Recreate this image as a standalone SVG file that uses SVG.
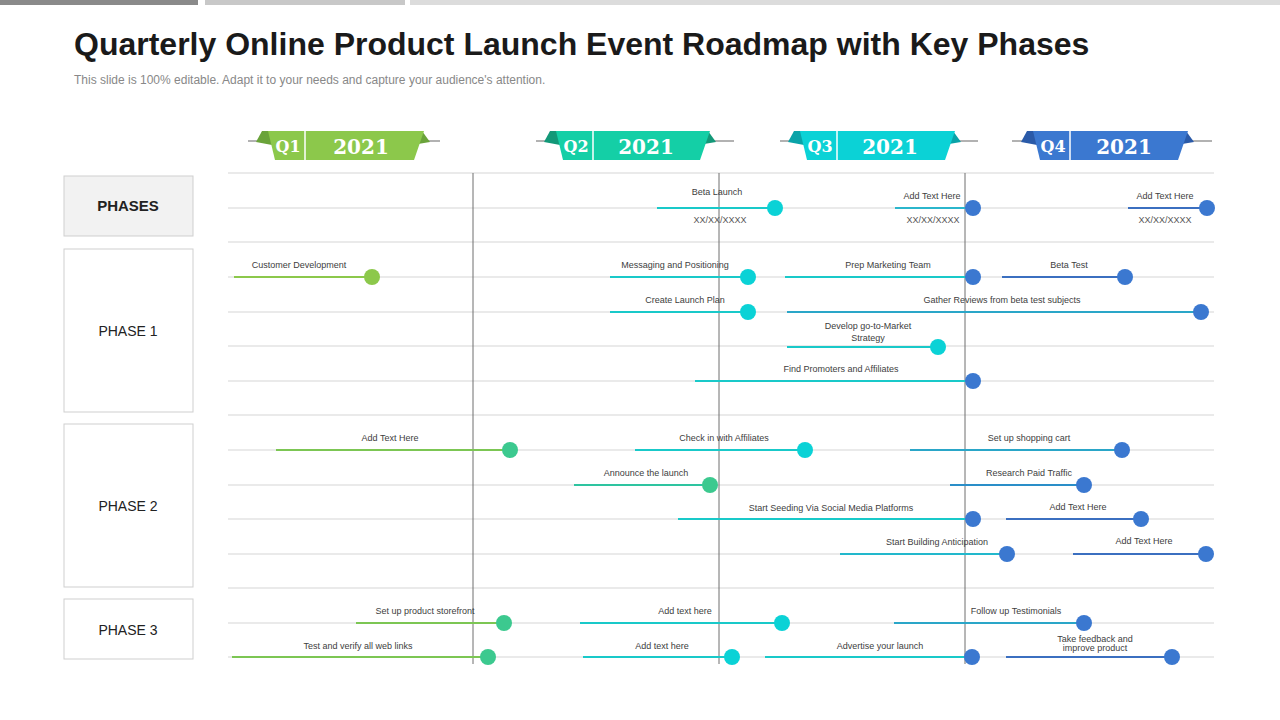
<svg xmlns="http://www.w3.org/2000/svg" width="1280" height="720" viewBox="0 0 1280 720">
<defs><style>
text{font-family:"Liberation Sans",Arial,sans-serif}
.g{stroke:#e3e3e3;stroke-width:1.5}
.v{stroke:#6e6e6e;stroke-width:1}
.l{font-size:9px;fill:#404040;text-anchor:middle}
.d{font-size:9px;fill:#555;text-anchor:middle}
.q{font-family:"DejaVu Serif",serif;font-weight:bold;fill:#fff}
.box{fill:#fff;stroke:#cfcfcf}
.ph{font-size:14px;fill:#222;text-anchor:middle}
</style></defs>
<rect width="1280" height="720" fill="#fff"/>
<rect x="0" y="0" width="198" height="5" fill="#8a8a8a"/>
<rect x="205" y="0" width="200" height="5" fill="#c8c8c8"/>
<rect x="410" y="0" width="870" height="5" fill="#dcdcdc"/>
<text x="74" y="55" font-size="32" font-weight="bold" fill="#1a1a1a">Quarterly Online Product Launch Event Roadmap with Key Phases</text>
<text x="74" y="84" font-size="12" fill="#888">This slide is 100% editable. Adapt it to your needs and capture your audience's attention.</text>

<g id="ribbons">
<g id="q1"><path d="M248 141 H440" stroke="#999" stroke-width="1.5"/><path d="M262 131 L270 131 L272 145 L256 142Z" fill="#6aa33a"/><path d="M414 131 L422 131 L430 142 L412 145Z" fill="#6aa33a"/><path d="M268 131 H424 L414 160 H275Z" fill="#8cc84b"/><line x1="305" y1="131" x2="305" y2="160" stroke="#fff" stroke-width="1.5"/><text class="q" x="288" y="152" font-size="16" text-anchor="middle">Q1</text><text class="q" x="361" y="154" font-size="20" text-anchor="middle">2021</text></g>
<g id="q2"><path d="M536 141 H734" stroke="#999" stroke-width="1.5"/><path d="M550 131 L558 131 L560 145 L544 142Z" fill="#139878"/><path d="M700 131 L708 131 L716 142 L698 145Z" fill="#139878"/><path d="M556 131 H710 L700 160 H563Z" fill="#14cfa6"/><line x1="593" y1="131" x2="593" y2="160" stroke="#fff" stroke-width="1.5"/><text class="q" x="576" y="152" font-size="16" text-anchor="middle">Q2</text><text class="q" x="646" y="154" font-size="20" text-anchor="middle">2021</text></g>
<g id="q3"><path d="M780 141 H978" stroke="#999" stroke-width="1.5"/><path d="M794 131 L802 131 L804 145 L788 142Z" fill="#0aa3a8"/><path d="M945 131 L953 131 L961 142 L943 145Z" fill="#0aa3a8"/><path d="M800 131 H955 L945 160 H807Z" fill="#0bd2d6"/><line x1="837" y1="131" x2="837" y2="160" stroke="#fff" stroke-width="1.5"/><text class="q" x="820" y="152" font-size="16" text-anchor="middle">Q3</text><text class="q" x="890" y="154" font-size="20" text-anchor="middle">2021</text></g>
<g id="q4"><path d="M1012 141 H1212" stroke="#999" stroke-width="1.5"/><path d="M1027 131 L1035 131 L1037 145 L1021 142Z" fill="#2a5aa8"/><path d="M1178 131 L1186 131 L1194 142 L1176 145Z" fill="#2a5aa8"/><path d="M1033 131 H1188 L1178 160 H1040Z" fill="#3b78d0"/><line x1="1070" y1="131" x2="1070" y2="160" stroke="#fff" stroke-width="1.5"/><text class="q" x="1053" y="152" font-size="16" text-anchor="middle">Q4</text><text class="q" x="1124" y="154" font-size="20" text-anchor="middle">2021</text></g>
</g>

<g id="grid">
<line class="g" x1="228" y1="173" x2="1214" y2="173"/>
<line class="g" x1="228" y1="208" x2="1214" y2="208"/>
<line class="g" x1="228" y1="242" x2="1214" y2="242"/>
<line class="g" x1="228" y1="277" x2="1214" y2="277"/>
<line class="g" x1="228" y1="312" x2="1214" y2="312"/>
<line class="g" x1="228" y1="346" x2="1214" y2="346"/>
<line class="g" x1="228" y1="381" x2="1214" y2="381"/>
<line class="g" x1="228" y1="415" x2="1214" y2="415"/>
<line class="g" x1="228" y1="450" x2="1214" y2="450"/>
<line class="g" x1="228" y1="485" x2="1214" y2="485"/>
<line class="g" x1="228" y1="519" x2="1214" y2="519"/>
<line class="g" x1="228" y1="554" x2="1214" y2="554"/>
<line class="g" x1="228" y1="588" x2="1214" y2="588"/>
<line class="g" x1="228" y1="623" x2="1214" y2="623"/>
<line class="g" x1="228" y1="657" x2="1214" y2="657"/>
<line class="v" x1="473" y1="173" x2="473" y2="664"/>
<line class="v" x1="719" y1="173" x2="719" y2="664"/>
<line class="v" x1="965" y1="173" x2="965" y2="664"/>
</g>

<g id="phases">
<g id="phases-head"><rect x="64" y="176" width="129" height="60" fill="#f2f2f2" stroke="#cfcfcf"/><text x="128" y="211" font-size="15" font-weight="bold" text-anchor="middle" fill="#222">PHASES</text></g>
<g id="phase1"><rect class="box" x="64" y="249" width="129" height="163"/><text class="ph" x="128" y="336">PHASE 1</text></g>
<g id="phase2"><rect class="box" x="64" y="424" width="129" height="163"/><text class="ph" x="128" y="511">PHASE 2</text></g>
<g id="phase3"><rect class="box" x="64" y="599" width="129" height="60"/><text class="ph" x="128" y="635">PHASE 3</text></g>
</g>

<g id="connectors" stroke-width="2">
<line x1="657" y1="208" x2="775" y2="208" stroke="#19c9c9"/>
<line x1="895" y1="208" x2="973" y2="208" stroke="#2bb6cc"/>
<line x1="1128" y1="208" x2="1207" y2="208" stroke="#3b6fc0"/>
<line x1="234" y1="277" x2="372" y2="277" stroke="#8cc84b"/>
<line x1="610" y1="277" x2="748" y2="277" stroke="#19c9c9"/>
<line x1="785" y1="277" x2="973" y2="277" stroke="#19c9c9"/>
<line x1="1002" y1="277" x2="1125" y2="277" stroke="#3b6fc0"/>
<line x1="610" y1="312" x2="748" y2="312" stroke="#19c9c9"/>
<line x1="787" y1="312" x2="1201" y2="312" stroke="#2aa6c8"/>
<line x1="787" y1="347" x2="938" y2="347" stroke="#19c9c9"/>
<line x1="695" y1="381" x2="973" y2="381" stroke="#19c9c9"/>
<line x1="276" y1="450" x2="510" y2="450" stroke="#7cc653"/>
<line x1="635" y1="450" x2="805" y2="450" stroke="#19c9c9"/>
<line x1="910" y1="450" x2="1122" y2="450" stroke="#2aa6c8"/>
<line x1="574" y1="485" x2="710" y2="485" stroke="#2ec4a0"/>
<line x1="950" y1="485" x2="1084" y2="485" stroke="#2a8ec8"/>
<line x1="678" y1="519" x2="973" y2="519" stroke="#19c9c9"/>
<line x1="1006" y1="519" x2="1141" y2="519" stroke="#3b6fc0"/>
<line x1="840" y1="554" x2="1007" y2="554" stroke="#22b8cc"/>
<line x1="1073" y1="554" x2="1206" y2="554" stroke="#3b6fc0"/>
<line x1="356" y1="623" x2="504" y2="623" stroke="#7cc653"/>
<line x1="580" y1="623" x2="782" y2="623" stroke="#19c9c9"/>
<line x1="894" y1="623" x2="1084" y2="623" stroke="#2aa6c8"/>
<line x1="232" y1="657" x2="488" y2="657" stroke="#7cc653"/>
<line x1="583" y1="657" x2="732" y2="657" stroke="#19c9c9"/>
<line x1="765" y1="657" x2="972" y2="657" stroke="#19c9c9"/>
<line x1="1006" y1="657" x2="1172" y2="657" stroke="#3b6fc0"/>
</g>

<g id="items">
<g id="i1"><circle cx="775" cy="208" r="8" fill="#0bd2d6"/><text class="l" x="717" y="195">Beta Launch</text><text class="d" x="720" y="223">XX/XX/XXXX</text></g>
<g id="i2"><circle cx="973" cy="208" r="8" fill="#3b78d0"/><text class="l" x="932" y="199">Add Text Here</text><text class="d" x="933" y="223">XX/XX/XXXX</text></g>
<g id="i3"><circle cx="1207" cy="208" r="8" fill="#3b78d0"/><text class="l" x="1165" y="199">Add Text Here</text><text class="d" x="1165" y="223">XX/XX/XXXX</text></g>
<g id="i4"><circle cx="372" cy="277" r="8" fill="#8cc84b"/><text class="l" x="299" y="268">Customer Development</text></g>
<g id="i5"><circle cx="748" cy="277" r="8" fill="#0bd2d6"/><text class="l" x="675" y="268">Messaging and Positioning</text></g>
<g id="i6"><circle cx="973" cy="277" r="8" fill="#3b78d0"/><text class="l" x="888" y="268">Prep Marketing Team</text></g>
<g id="i7"><circle cx="1125" cy="277" r="8" fill="#3b78d0"/><text class="l" x="1069" y="268">Beta Test</text></g>
<g id="i8"><circle cx="748" cy="312" r="8" fill="#0bd2d6"/><text class="l" x="685" y="303">Create Launch Plan</text></g>
<g id="i9"><circle cx="1201" cy="312" r="8" fill="#3b78d0"/><text class="l" x="1002" y="303">Gather Reviews from beta test subjects</text></g>
<g id="i10"><circle cx="938" cy="347" r="8" fill="#0bd2d6"/><text class="l" x="868" y="329">Develop go-to-Market</text><text class="l" x="868" y="341">Strategy</text></g>
<g id="i11"><circle cx="973" cy="381" r="8" fill="#3b78d0"/><text class="l" x="841" y="372">Find Promoters and Affiliates</text></g>
<g id="i12"><circle cx="510" cy="450" r="8" fill="#3cc98f"/><text class="l" x="390" y="441">Add Text Here</text></g>
<g id="i13"><circle cx="805" cy="450" r="8" fill="#0bd2d6"/><text class="l" x="724" y="441">Check in with Affiliates</text></g>
<g id="i14"><circle cx="1122" cy="450" r="8" fill="#3b78d0"/><text class="l" x="1029" y="441">Set up shopping cart</text></g>
<g id="i15"><circle cx="710" cy="485" r="8" fill="#3cc98f"/><text class="l" x="646" y="476">Announce the launch</text></g>
<g id="i16"><circle cx="1084" cy="485" r="8" fill="#3b78d0"/><text class="l" x="1029" y="476">Research Paid Traffic</text></g>
<g id="i17"><circle cx="973" cy="519" r="8" fill="#3b78d0"/><text class="l" x="831" y="511">Start Seeding Via Social Media Platforms</text></g>
<g id="i18"><circle cx="1141" cy="519" r="8" fill="#3b78d0"/><text class="l" x="1078" y="510">Add Text Here</text></g>
<g id="i19"><circle cx="1007" cy="554" r="8" fill="#3b78d0"/><text class="l" x="937" y="545">Start Building Anticipation</text></g>
<g id="i20"><circle cx="1206" cy="554" r="8" fill="#3b78d0"/><text class="l" x="1144" y="544">Add Text Here</text></g>
<g id="i21"><circle cx="504" cy="623" r="8" fill="#3cc98f"/><text class="l" x="425" y="614">Set up product storefront</text></g>
<g id="i22"><circle cx="782" cy="623" r="8" fill="#0bd2d6"/><text class="l" x="685" y="614">Add text here</text></g>
<g id="i23"><circle cx="1084" cy="623" r="8" fill="#3b78d0"/><text class="l" x="1016" y="614">Follow up Testimonials</text></g>
<g id="i24"><circle cx="488" cy="657" r="8" fill="#3cc98f"/><text class="l" x="358" y="649">Test and verify all web links</text></g>
<g id="i25"><circle cx="732" cy="657" r="8" fill="#0bd2d6"/><text class="l" x="662" y="649">Add text here</text></g>
<g id="i26"><circle cx="972" cy="657" r="8" fill="#3b78d0"/><text class="l" x="880" y="649">Advertise your launch</text></g>
<g id="i27"><circle cx="1172" cy="657" r="8" fill="#3b78d0"/><text class="l" x="1095" y="642" font-size="8">Take feedback  and</text><text class="l" x="1095" y="651" font-size="8">improve product</text></g>
</g>
</svg>
